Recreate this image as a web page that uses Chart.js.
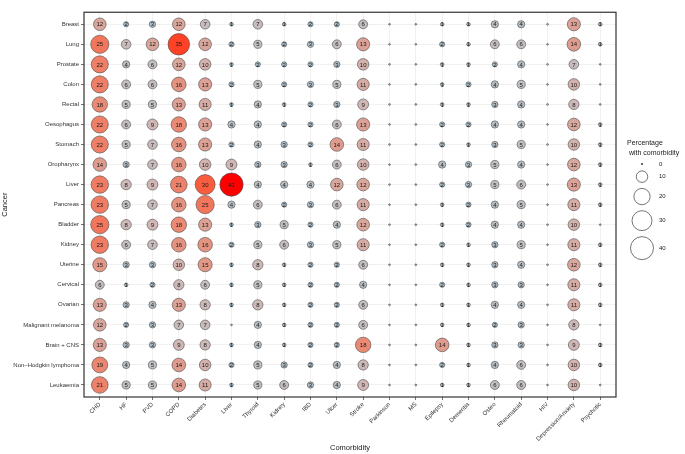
<!DOCTYPE html>
<html>
<head>
<meta charset="utf-8">
<script src="https://cdn.jsdelivr.net/npm/chart.js@4.4.0/dist/chart.umd.min.js"></script>
<style>
  html, body { margin: 0; padding: 0; background: #fff; }
</style>
</head>
<body>
<canvas id="chart" width="685" height="454"></canvas>
<script>
// categories
var cancers = [
  "Breast", "Lung", "Prostate", "Colon", "Rectal", "Oesophagus", "Stomach",
  "Oropharynx", "Liver", "Pancreas", "Bladder", "Kidney", "Uterine", "Cervical",
  "Ovarian", "Malignant melanoma", "Brain + CNS", "Non\u2013Hodgkin lymphoma", "Leukaemia"
];
var comorbidities = [
  "CHD", "HF", "PVD", "COPD", "Diabetes", "Liver", "Thyroid", "Kidney", "IBD", "Ulcer",
  "Stroke", "Parkinson", "MS", "Epilepsy", "Dementia", "Osteo", "Rheumatoid", "HIV",
  "Depression/Anxiety", "Psychotic"
];

// percentage with comorbidity, one row per cancer (same order as comorbidities)
var pct = [
  [12, 2, 3, 12, 7, 1, 7, 1, 2, 2, 6, 0, 0, 1, 1, 4, 4, 0, 13, 1],
  [25, 7, 12, 35, 12, 2, 5, 2, 3, 6, 13, 0, 0, 2, 1, 6, 6, 0, 14, 1],
  [22, 4, 6, 12, 10, 1, 2, 2, 2, 3, 10, 0, 0, 1, 1, 2, 4, 0, 7, 0],
  [22, 6, 6, 16, 13, 2, 5, 2, 3, 5, 11, 0, 0, 1, 2, 4, 5, 0, 10, 0],
  [18, 5, 5, 13, 11, 1, 4, 1, 2, 3, 9, 0, 0, 1, 1, 3, 4, 0, 8, 0],
  [22, 6, 9, 18, 13, 4, 4, 2, 2, 6, 13, 0, 0, 2, 2, 4, 4, 0, 12, 1],
  [22, 5, 7, 16, 13, 2, 4, 3, 2, 14, 11, 0, 0, 2, 1, 3, 5, 0, 10, 1],
  [14, 3, 7, 16, 10, 9, 3, 3, 1, 6, 10, 0, 0, 4, 3, 5, 4, 0, 12, 1],
  [23, 8, 9, 21, 30, 41, 4, 4, 4, 12, 12, 0, 0, 2, 3, 5, 6, 0, 13, 1],
  [23, 5, 7, 16, 25, 4, 6, 2, 3, 6, 11, 0, 0, 1, 2, 4, 5, 0, 11, 1],
  [25, 8, 9, 18, 13, 1, 3, 5, 2, 4, 12, 0, 0, 1, 2, 4, 4, 0, 10, 0],
  [23, 6, 7, 16, 16, 2, 5, 6, 3, 5, 11, 0, 0, 2, 1, 3, 5, 0, 11, 1],
  [15, 3, 3, 10, 15, 1, 8, 1, 2, 2, 6, 0, 0, 1, 1, 3, 4, 0, 12, 1],
  [6, 1, 2, 8, 6, 1, 5, 1, 2, 2, 4, 0, 0, 2, 1, 3, 3, 0, 11, 1],
  [13, 3, 4, 13, 8, 1, 8, 1, 2, 2, 6, 0, 0, 1, 1, 4, 4, 0, 11, 1],
  [12, 2, 3, 7, 7, 0, 4, 1, 2, 2, 6, 0, 0, 1, 1, 2, 3, 0, 8, 0],
  [13, 3, 3, 9, 8, 1, 4, 1, 2, 2, 18, 0, 0, 14, 1, 3, 3, 0, 9, 1],
  [19, 4, 5, 14, 10, 2, 5, 3, 2, 4, 8, 0, 0, 2, 1, 4, 6, 0, 10, 1],
  [21, 5, 5, 14, 11, 1, 5, 6, 3, 4, 9, 0, 0, 1, 1, 6, 6, 0, 10, 0]
];

// size legend keys
var legendValues = [0, 10, 20, 30, 40];

var FONT = '"Liberation Sans", Arial, sans-serif';

// bubble area follows the percentage
function radiusOf(v) {
  return Math.max(0.9, 1.82 * Math.sqrt(v));
}

// fill runs from blue-grey through grey and salmon up to red
var colourStops = [
  [0, [150, 180, 196]],
  [2, [165, 188, 200]],
  [5, [192, 192, 196]],
  [9, [208, 182, 180]],
  [13, [220, 160, 148]],
  [18, [234, 138, 116]],
  [25, [242, 118, 92]],
  [30, [250, 92, 62]],
  [35, [255, 66, 38]],
  [41, [255, 0, 0]]
];
function colourOf(v) {
  for (var i = 1; i < colourStops.length; i++) {
    if (v <= colourStops[i][0]) {
      var a = colourStops[i - 1], b = colourStops[i];
      var t = (v - a[0]) / (b[0] - a[0]);
      var c = [];
      for (var k = 0; k < 3; k++) c.push(Math.round(a[1][k] + t * (b[1][k] - a[1][k])));
      return "rgb(" + c.join(",") + ")";
    }
  }
  return "rgb(255,0,0)";
}

// build bubble points from the table
var points = [];
for (var r = 0; r < cancers.length; r++) {
  for (var c = 0; c < comorbidities.length; c++) {
    points.push({ x: c, y: r, v: pct[r][c] });
  }
}

// numbers inside the bubbles and the panel border
var bubbleLabels = {
  id: "bubbleLabels",
  afterDatasetsDraw: function (chart) {
    var ctx = chart.ctx;
    var meta = chart.getDatasetMeta(0);
    var data = chart.data.datasets[0].data;
    ctx.save();
    ctx.font = "6px " + FONT;
    ctx.fillStyle = "#1a1a1a";
    ctx.textAlign = "center";
    ctx.textBaseline = "middle";
    for (var i = 0; i < meta.data.length; i++) {
      if (data[i].v < 1) continue;
      ctx.fillText(String(data[i].v), meta.data[i].x, meta.data[i].y + 0.5);
    }
    var a = chart.chartArea;
    ctx.strokeStyle = "#333";
    ctx.lineWidth = 1.2;
    ctx.strokeRect(a.left, a.top, a.right - a.left, a.bottom - a.top);
    ctx.restore();
  }
};

// size legend on the right
var sizeLegend = {
  id: "sizeLegend",
  afterDraw: function (chart) {
    var ctx = chart.ctx;
    var a = chart.chartArea;
    var left = a.right + 11;
    var cx = a.right + 26;
    ctx.save();
    ctx.font = "7px " + FONT;
    ctx.fillStyle = "#1a1a1a";
    ctx.textAlign = "left";
    ctx.textBaseline = "middle";
    ctx.fillText("Percentage", left, 143);
    ctx.fillText(" with comorbidity", left, 153);

    var y = 164;
    var prevH = 0;
    for (var i = 0; i < legendValues.length; i++) {
      var rad = radiusOf(legendValues[i]);
      var h = 2 * rad + 6;
      if (i > 0) y += (prevH + h) / 2;
      prevH = h;
      ctx.beginPath();
      ctx.arc(cx, y, rad, 0, Math.PI * 2);
      if (legendValues[i] === 0) {
        ctx.fillStyle = "#1a1a1a";
        ctx.fill();
      } else {
        ctx.fillStyle = "#fff";
        ctx.fill();
        ctx.strokeStyle = "#1a1a1a";
        ctx.lineWidth = 0.6;
        ctx.stroke();
      }
      ctx.fillStyle = "#1a1a1a";
      ctx.font = "6px " + FONT;
      ctx.fillText(String(legendValues[i]), cx + 17, y);
    }
    ctx.restore();
  }
};

function indexTicks(labels) {
  return function (scale) {
    scale.ticks = labels.map(function (l, i) { return { value: i }; });
  };
}

var ctx = document.getElementById("chart").getContext("2d");
var chart = new Chart(ctx, {
  type: "bubble",
  data: {
    datasets: [
      {
        data: points,
        backgroundColor: function (c) { return colourOf(c.raw.v); },
        borderColor: "#4a4a4a",
        borderWidth: 0.6,
        radius: function (c) { return radiusOf(c.raw.v); },
        hoverRadius: 0
      }
    ]
  },
  options: {
    responsive: false,
    animation: false,
    events: [],
    layout: { padding: { left: 0, right: 69, top: 1, bottom: 0 } },
    plugins: {
      legend: { display: false },
      tooltip: { enabled: false }
    },
    scales: {
      x: {
        type: "linear",
        min: -0.6,
        max: comorbidities.length - 0.4,
        afterBuildTicks: indexTicks(comorbidities),
        afterFit: function (scale) { scale.height = 57; },
        grid: { color: "#ebebeb", lineWidth: 0.7, tickColor: "#333", tickLength: 3 },
        border: { display: false },
        ticks: {
          autoSkip: false,
          minRotation: 45,
          maxRotation: 45,
          padding: 1,
          color: "#333",
          font: { family: FONT, size: 6 },
          callback: function (value) { return comorbidities[value]; }
        },
        title: {
          display: true,
          text: "Comorbidity",
          color: "#1a1a1a",
          font: { family: FONT, size: 7.5 },
          padding: { top: 0, bottom: 2 }
        }
      },
      y: {
        type: "linear",
        reverse: true,
        min: -0.6,
        max: cancers.length - 0.4,
        afterBuildTicks: indexTicks(cancers),
        afterFit: function (scale) { scale.width = 84; },
        grid: { color: "#ebebeb", lineWidth: 0.7, tickColor: "#333", tickLength: 3 },
        border: { display: false },
        ticks: {
          autoSkip: false,
          padding: 2,
          color: "#333",
          font: { family: FONT, size: 6 },
          callback: function (value) { return cancers[value]; }
        },
        title: {
          display: true,
          text: "Cancer",
          color: "#1a1a1a",
          font: { family: FONT, size: 7.5 },
          padding: { top: 0, bottom: 0 }
        }
      }
    }
  },
  plugins: [bubbleLabels, sizeLegend]
});
</script>
</body>
</html>
